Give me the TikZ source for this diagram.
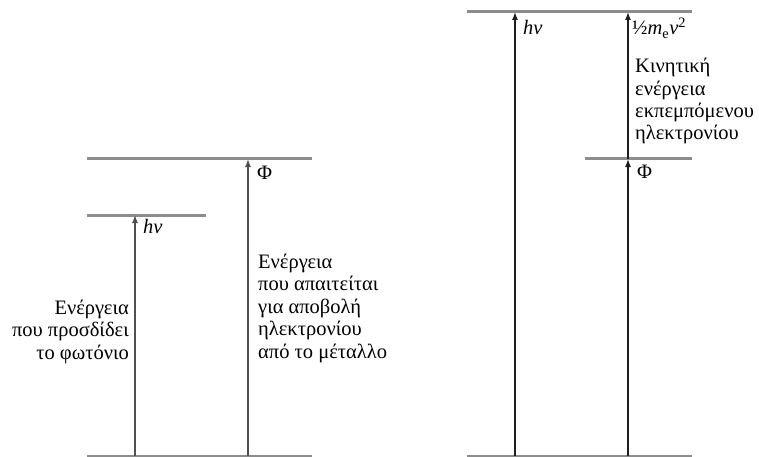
\documentclass[tikz,border=0pt]{standalone}
\usepackage{fontspec}
\setmainfont{Liberation Serif}
\usetikzlibrary{arrows.meta,positioning}
\definecolor{level}{RGB}{140,140,140}
\definecolor{ink}{RGB}{30,30,30}
\definecolor{inkL}{RGB}{80,80,80}
\tikzset{
  lvl/.style={draw=level,line width=3pt},
  up/.style={-{Latex[length=8pt,width=6pt]},line width=1.3pt,ink},
  lbl/.style={font=\fontsize{20.5}{22.4}\selectfont,inner sep=0pt,align=left},
}
\begin{document}
\begin{tikzpicture}[x=1pt,y=-1pt]
  \useasboundingbox (0,0) rectangle (759,457);
  % left panel: photon energy below the work function
  \coordinate (gL) at (87,456);   \coordinate (gR) at (312,456);
  \coordinate (wL) at (87,159);   \coordinate (wR) at (312,159);
  \coordinate (pL) at (87,215);   \coordinate (pR) at (206,215);
  \draw[lvl] (gL) -- (gR);
  \draw[lvl] (wL) -- (wR);
  \draw[lvl] (pL) -- (pR);
  \coordinate (a0) at (135,456); \coordinate (a1) at (135,215);
  \coordinate (b0) at (248,456); \coordinate (b1) at (248,159);
  \draw[up,inkL] (a0) -- (a1);
  \draw[up,inkL] (b0) -- (b1);
  \node[lbl,anchor=base west] (hnuL) at (143,233) {\textit{hν}};
  \node[lbl,anchor=base west] (phiL) at (257,179) {Φ};
  % base of a multi-line node = baseline of its last line
  \node[lbl,anchor=base west] (work) at (258,358)
    {Ενέργεια\\που απαιτείται\\για αποβολή\\ηλεκτρονίου\\από το μέταλλο};
  \node[lbl,anchor=base east,align=right] (photon) at (129,359)
    {Ενέργεια\\που προσδίδει\\το φωτόνιο};
  % right panel: photon energy above the work function
  \coordinate (GL) at (467,456);  \coordinate (GR) at (692,456);
  \coordinate (TL) at (467,12);   \coordinate (TR) at (692,12);
  \coordinate (FL) at (585,159);  \coordinate (FR) at (692,159);
  \draw[lvl] (GL) -- (GR);
  \draw[lvl] (TL) -- (TR);
  \draw[lvl] (FL) -- (FR);
  \coordinate (c0) at (515,456); \coordinate (c1) at (515,12);
  \coordinate (d0) at (628,456); \coordinate (d1) at (628,159);
  \coordinate (d2) at (628,12);
  \draw[up] (c0) -- (c1);
  \draw[up] (d0) -- (d1);
  \draw[up] (d1) -- (d2);
  \node[lbl,anchor=base west] (hnuR) at (523,35) {\textit{hν}};
  \node[lbl,anchor=base west] (kin) at (632,35)
    {½\textit{m}\textsubscript{e}\textit{v}\textsuperscript{2}};
  \node[lbl,anchor=base west] (kintxt) at (635,140)
    {Κινητική\\ενέργεια\\εκπεμπόμενου\\ηλεκτρονίου};
  \node[lbl,anchor=base west] (phiR) at (637,178) {Φ};
\end{tikzpicture}
\end{document}
